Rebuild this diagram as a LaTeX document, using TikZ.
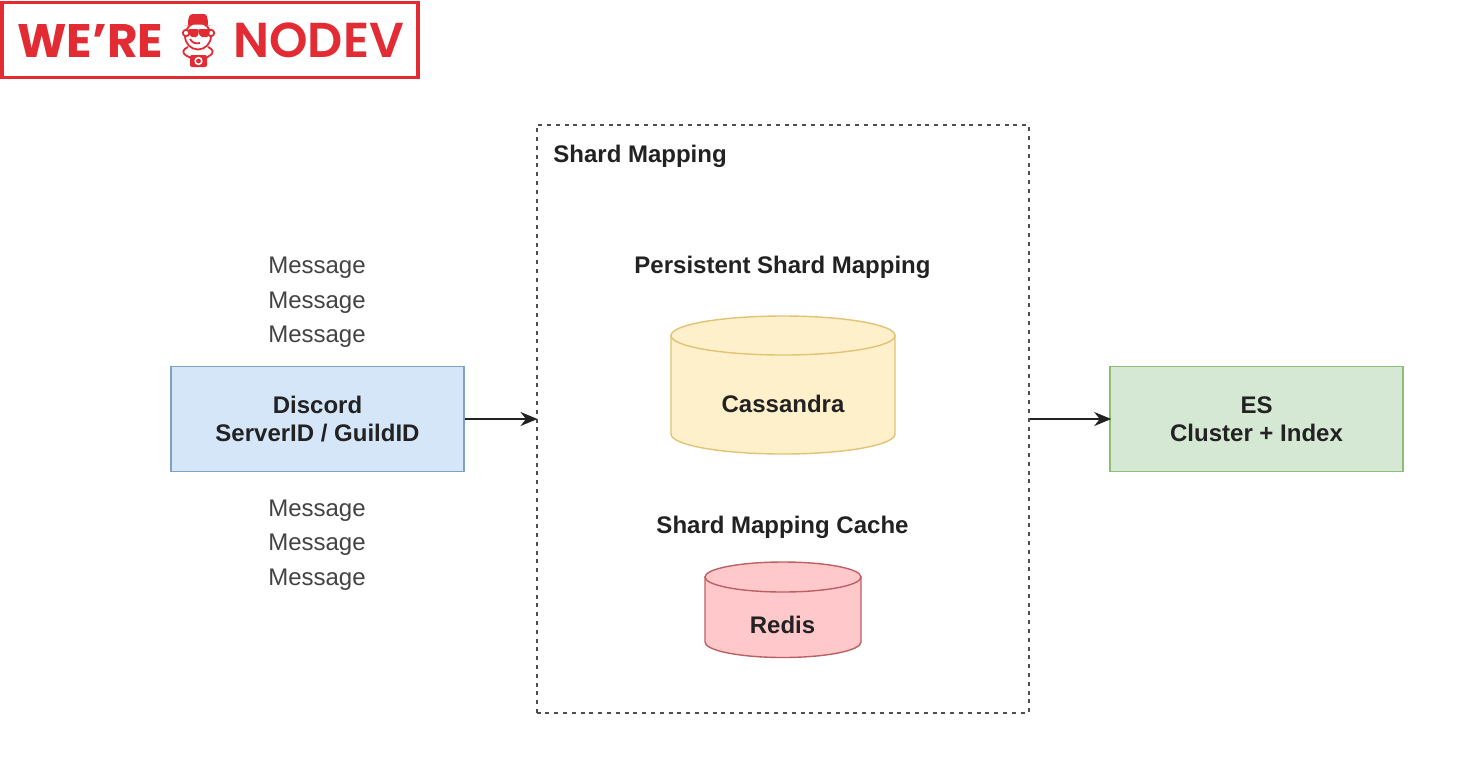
\documentclass[tikz,border=0pt]{standalone}
\usepackage{fontspec}
\setmainfont{Liberation Sans}
\newfontfamily\logofont{Poppins SemiBold}
\newfontfamily\logoheavy{Poppins}
\usetikzlibrary{arrows.meta}
\definecolor{logored}{HTML}{E32B33}
\definecolor{ink}{HTML}{222222}
\definecolor{blueedge}{RGB}{125,160,195}
\definecolor{bluefill}{RGB}{212,230,247}
\definecolor{greenedge}{RGB}{140,190,120}
\definecolor{greenfill}{RGB}{213,232,212}
\definecolor{yellowedge}{RGB}{225,195,115}
\definecolor{yellowfill}{RGB}{255,240,204}
\definecolor{rededge}{RGB}{190,95,100}
\definecolor{redfill}{RGB}{255,201,203}
\newcommand{\lowln}[1]{\raisebox{-0.5pt}{#1}}
\tikzset{
 x=0.5pt,y=-0.5pt,
 plainmsg/.style={font=\fontsize{12}{12}\selectfont,text=ink!85},
 boldlbl/.style={font=\fontsize{12}{14}\selectfont\bfseries,text=ink,align=center},
 flowbox/.style={draw=#1,line width=0.8pt,minimum width=146.5pt,minimum height=52.5pt,inner sep=0pt,align=center,font=\fontsize{12}{14}\selectfont\bfseries,text=ink},
 dbshape/.style={line width=0.7pt},
 conn/.style={-{Stealth[length=8.5pt,width=7pt]},line width=0.9pt,draw=ink,shorten >=-1pt},
 logotext/.style={text=logored,inner sep=0pt,anchor=base west},
}
\begin{document}
\begin{tikzpicture}
\useasboundingbox (0,0) rectangle (1482,756);
\fill[white] (0,0) rectangle (1482,756);
% logo
\node[draw=logored,line width=1.9pt,fill=white,minimum width=208pt,minimum height=37.5pt,inner sep=0pt] (frame) at (210,40) {};
\node[logotext,font=\logoheavy\fontsize{23.5}{24}\selectfont\bfseries] (were) at (17,57) {WE’RE};
\node[logotext,font=\logofont\fontsize{24.5}{24}\selectfont] (nodev) at (233,57) {NODEV};
\begin{scope}[logored]
 % head and ears
 \draw[line width=0.9pt] (198,36) ellipse[x radius=13,y radius=13.5];
 \draw[line width=0.9pt,fill=white] (186,33) circle[radius=3.2];
 \draw[line width=0.9pt,fill=white] (211,33) circle[radius=3.2];
 % hat
 \fill (184,26) -- (188,25) .. controls (188,18) and (189,14) .. (193,14) -- (204,14) .. controls (207,14) and (208,18) .. (208,25) -- (212,26) .. controls (204,24) and (192,24) .. (184,26) -- cycle;
 % glasses
 \fill[rounded corners=1pt] (188,29) -- (199,29) -- (198,37) -- (190,37) -- cycle;
 \fill[rounded corners=1pt] (198,29) -- (210,29) -- (209,37) -- (200,37) -- cycle;
 % smile
 \draw[line width=0.9pt] (190,39) .. controls (192,43) and (196,44) .. (200,43);
 % arms
 \draw[line width=0.9pt] (188,47) .. controls (183,49) and (181,53) .. (187,56) -- (191,58);
 \draw[line width=0.9pt] (208,47) .. controls (213,49) and (215,53) .. (209,56) -- (206,58);
 % camera
 \fill[rounded corners=1pt] (190,55) rectangle (207,67);
 \fill[white] (198.5,61) circle[radius=4.2];
 \fill (198.5,61) circle[radius=2.4];
\end{scope}
% shard mapping group
\node[draw=ink!80,dash pattern=on 2pt off 2.4pt,line width=1pt,minimum width=246pt,minimum height=294pt,inner sep=0pt] (group) at (782.5,419) {};
\node[boldlbl,anchor=west,inner sep=0pt] (grouplbl) at (553,156) {Shard Mapping};
% left
\node[plainmsg] (m1) at (317,267.5) {Message};
\node[plainmsg] (m2) at (317,302.5) {Message};
\node[plainmsg] (m3) at (317,336.5) {Message};
\node[flowbox=blueedge,fill=bluefill] (discord) at (317.5,419) {\lowln{Discord}\\\lowln{ServerID / GuildID}};
\node[plainmsg] (m4) at (317,510.5) {Message};
\node[plainmsg] (m5) at (317,544.5) {Message};
\node[plainmsg] (m6) at (317,579.5) {Message};
% right
\node[flowbox=greenedge,fill=greenfill] (es) at (1256.5,419) {\lowln{ES}\\\lowln{Cluster + Index}};
% databases
\node[boldlbl] (plbl) at (782.5,267) {Persistent Shard Mapping};
\draw[dbshape,draw=yellowedge,fill=yellowfill] (671,335.5) -- (895,335.5) -- (895,434) arc[start angle=0,end angle=180,x radius=112,y radius=20] -- cycle;
\draw[dbshape,draw=yellowedge,fill=yellowfill] (783,335.5) ellipse[x radius=112,y radius=19.5];
\node[boldlbl] (casslbl) at (783,404) {Cassandra};
\node[boldlbl] (clbl) at (782.5,527) {Shard Mapping Cache};
\draw[dbshape,draw=rededge,fill=redfill] (705,577) -- (861,577) -- (861,642) arc[start angle=0,end angle=180,x radius=78,y radius=15.5] -- cycle;
\draw[dbshape,draw=rededge,fill=redfill] (783,577) ellipse[x radius=78,y radius=15];
\node[boldlbl] (redislbl) at (782.5,625) {Redis};
% connectors
\draw[conn] (discord.east) -- (discord.east -| group.west);
\draw[conn] (es.west -| group.east) -- (es.west);
\end{tikzpicture}
\end{document}
